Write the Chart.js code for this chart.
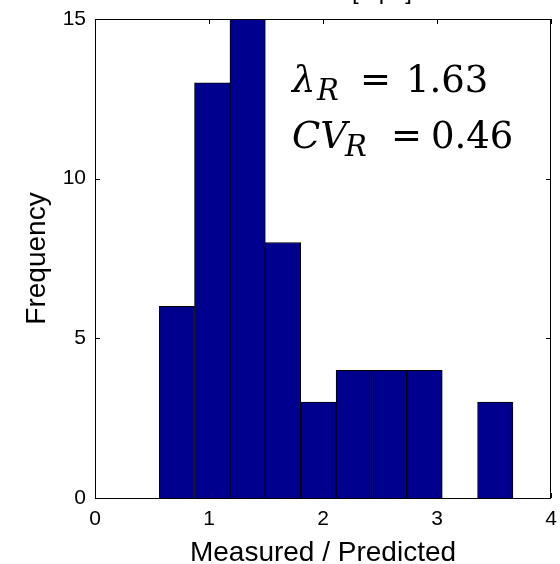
<!DOCTYPE html>
<html>
<head>
<meta charset="utf-8">
<script src="https://cdn.jsdelivr.net/npm/chart.js@4.4.1/dist/chart.umd.min.js"></script>
<style>
    html, body { margin: 0; padding: 0; background: #fff; }
    #wrap { width: 560px; height: 564px; }
</style>
</head>
<body>
<div id="wrap"><canvas id="hist-chart" width="560" height="564"></canvas></div>
<script>
// Datos del histograma (centros de clase)
const binCenters = [0.718, 1.028, 1.339, 1.649, 1.960, 2.270, 2.580, 2.891, 3.201, 3.511];
const counts = [6, 13, 15, 8, 3, 4, 4, 4, 0, 3];
const xTicks = [0, 1, 2, 3, 4];
const yTicks = [0, 5, 10, 15];
const titleText = "Concrete [Mpa]";
const xLabel = "Measured / Predicted";
const yLabel = "Frequency";
const statLines = [
    { name: "λ", value: "1.63" },
    { name: "CV", value: "0.46" }
];

const sansFont = "'Liberation Sans', Arial, sans-serif";
const serifFont = "'DejaVu Serif', serif";

// Marco tipo MATLAB: caja completa y marcas hacia dentro
const boxPlugin = {
    id: "boxPlugin",
    afterDraw(chart) {
        const ctx = chart.ctx;
        const area = chart.chartArea;
        const xs = chart.scales.x;
        const ys = chart.scales.y;
        ctx.save();
        ctx.strokeStyle = "#000";
        ctx.lineWidth = 1;
        ctx.strokeRect(area.left + 0.5, area.top + 0.5, area.right - area.left - 1, area.bottom - area.top);
        ctx.beginPath();
        xTicks.forEach(v => {
            const px = Math.round(xs.getPixelForValue(v)) + 0.5;
            ctx.moveTo(px, area.bottom); ctx.lineTo(px, area.bottom - 5);
            ctx.moveTo(px, area.top); ctx.lineTo(px, area.top + 5);
        });
        yTicks.forEach(v => {
            const py = Math.round(ys.getPixelForValue(v)) + 0.5;
            ctx.moveTo(area.left, py); ctx.lineTo(area.left + 5, py);
            ctx.moveTo(area.right, py); ctx.lineTo(area.right - 5, py);
        });
        ctx.stroke();

        // Titulo (cortado por arriba en la imagen original)
        ctx.fillStyle = "#000";
        ctx.font = "24px " + sansFont;
        ctx.textAlign = "center";
        ctx.textBaseline = "alphabetic";
        ctx.fillText(titleText, 330, -1);

        // Texto de estadisticas
        ctx.textAlign = "left";
        const rows = [
            { base: 92, nameX: 292, subX: 317, eqX: 360, valX: 406 },
            { base: 148, nameX: 292, subX: 345, eqX: 391, valX: 431 }
        ];
        statLines.forEach((s, i) => {
            const r = rows[i];
            ctx.font = "italic 37px " + serifFont;
            ctx.fillText(s.name, r.nameX, r.base);
            ctx.font = "italic 29px " + serifFont;
            ctx.fillText("R", r.subX, r.base + 8);
            ctx.font = "37px " + serifFont;
            ctx.fillText("=", r.eqX, r.base);
            ctx.fillText(s.value, r.valX, r.base);
        });
        ctx.restore();
    }
};

const ctx = document.getElementById("hist-chart").getContext("2d");
new Chart(ctx, {
    type: "bar",
    data: {
        datasets: [{
            data: binCenters.map((x, i) => ({ x: x, y: counts[i] })),
            backgroundColor: "#00008F",
            borderColor: "#000",
            borderWidth: 1,
            barPercentage: 1.0,
            categoryPercentage: 1.0
        }]
    },
    options: {
        responsive: false,
        animation: false,
        layout: { padding: { top: 19, right: 9, left: 0, bottom: 0 } },
        plugins: {
            legend: { display: false },
            tooltip: { enabled: false }
        },
        scales: {
            x: {
                type: "linear",
                offset: false,
                min: 0,
                max: 4,
                afterFit: scale => {
                    scale.height = 66;
                    scale.paddingLeft = 0;
                    scale.paddingRight = 0;
                },
                afterBuildTicks: scale => { scale.ticks = xTicks.map(v => ({ value: v })); },
                grid: { display: false, drawTicks: false, offset: false },
                border: { display: false },
                ticks: { color: "#000", font: { family: sansFont, size: 21 }, padding: 9 },
                title: { display: true, text: xLabel, color: "#000", font: { family: sansFont, size: 28 }, padding: { top: 0, bottom: -6 } }
            },
            y: {
                min: 0,
                max: 15,
                afterFit: scale => {
                    scale.width = 95;
                    scale.paddingTop = 0;
                    scale.paddingBottom = 0;
                },
                afterBuildTicks: scale => { scale.ticks = yTicks.map(v => ({ value: v })); },
                grid: { display: false, drawTicks: false },
                border: { display: false },
                ticks: { color: "#000", font: { family: sansFont, size: 21 }, padding: 9 },
                title: { display: true, text: yLabel, color: "#000", font: { family: sansFont, size: 28 }, padding: { top: 20, bottom: 0 } }
            }
        }
    },
    plugins: [boxPlugin]
});
</script>
</body>
</html>
